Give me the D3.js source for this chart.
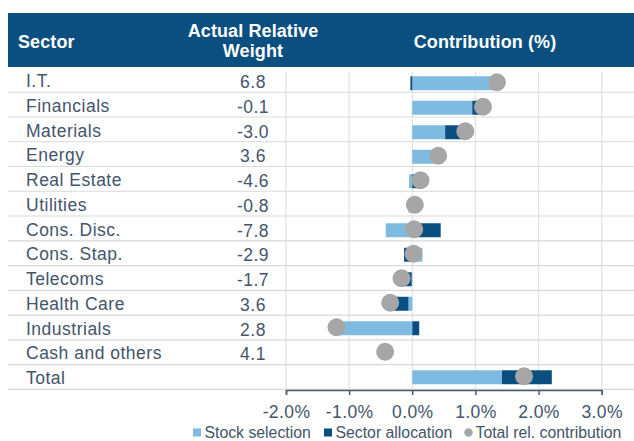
<!DOCTYPE html>
<html>
<head>
<meta charset="utf-8">
<script src="https://cdn.jsdelivr.net/npm/d3@7"></script>
<style>
  html, body { margin: 0; padding: 0; background: #fff; }
  svg { display: block; font-family: "Liberation Sans", Arial, sans-serif; }
</style>
</head>
<body>
<div id="chart"></div>
<script>
"use strict";

const sectors = [
  "I.T.", "Financials", "Materials", "Energy", "Real Estate", "Utilities",
  "Cons. Disc.", "Cons. Stap.", "Telecoms", "Health Care", "Industrials",
  "Cash and others", "Total",
];
// actual relative weight (%), Total has none
const weights = [6.8, -0.1, -3.0, 3.6, -4.6, -0.8, -7.8, -2.9, -1.7, 3.6, 2.8, 4.1, null];
// contributions (%)
const stockSelection = [1.37, 0.95, 0.52, 0.40, -0.05, -0.06, -0.42, 0.16, -0.01, -0.06, -1.25, 0, 1.42];
const sectorAllocation = [-0.03, 0.14, 0.32, 0.01, 0.17, 0.09, 0.45, -0.13, -0.15, -0.23, 0.11, 0, 0.79];
const totalContribution = [1.34, 1.12, 0.84, 0.41, 0.13, 0.04, 0.03, 0.02, -0.17, -0.35, -1.20, -0.43, 1.77];
const xTicks = [-2, -1, 0, 1, 2, 3];

const legendItems = [
  { label: "Stock selection", key: "stock" },
  { label: "Sector allocation", key: "sector" },
  { label: "Total rel. contribution", key: "total" },
];

const W = 634, H = 441;
const TEXT = "#44546A";
const NAVY = "#0B4F80";
const LIGHT = "#7FBAE1";
const GREY = "#A6A6A6";
const GRID = "#D9D9D9";

const svg = d3.select("#chart").append("svg").attr("width", W).attr("height", H);

// header band
const header = svg.append("g");
header.append("rect")
  .attr("x", 8).attr("y", 13).attr("width", W - 8).attr("height", 54)
  .attr("fill", NAVY);
header.append("text").attr("x", 18).attr("y", 48).text("Sector");
header.append("text").attr("x", 253).attr("y", 37).attr("text-anchor", "middle").text("Actual Relative");
header.append("text").attr("x", 253).attr("y", 57).attr("text-anchor", "middle").text("Weight");
header.append("text").attr("x", 485).attr("y", 48).attr("text-anchor", "middle").text("Contribution (%)");
header.selectAll("text")
  .attr("fill", "#fff").attr("font-weight", "bold").attr("font-size", "18px")
  .attr("letter-spacing", "0.1px");

// table rows
const rowY = d3.scaleBand().domain(sectors).range([67.5, 389.3]);
// chart bands
const y = d3.scaleBand().domain(sectors).range([71, 389.5]).paddingInner(0.43).paddingOuter(0.215);
const x = d3.scaleLinear().domain([-2, 3]).range([286, 601.7]);

// vertical gridlines
svg.append("g")
  .selectAll("line")
  .data(xTicks)
  .join("line")
  .attr("x1", (d) => x(d)).attr("x2", (d) => x(d))
  .attr("y1", 71.5).attr("y2", 390)
  .attr("stroke", "#E2E2E2").attr("stroke-width", 1.2);

// row separators
svg.append("g")
  .selectAll("line")
  .data(sectors)
  .join("line")
  .attr("x1", 8).attr("x2", W)
  .attr("y1", (d) => rowY(d) + rowY.step())
  .attr("y2", (d) => rowY(d) + rowY.step())
  .attr("stroke", GRID).attr("stroke-width", 1.2);

// sector names and weights
const rows = svg.append("g")
  .attr("fill", TEXT).attr("font-size", "17.5px").attr("letter-spacing", "0.5px");
rows.selectAll("text.name")
  .data(sectors)
  .join("text")
  .attr("class", "name")
  .attr("x", 26)
  .attr("y", (d) => rowY(d) + 19.5)
  .text((d) => d);
rows.selectAll("text.weight")
  .data(weights)
  .join("text")
  .attr("class", "weight")
  .attr("x", 253)
  .attr("y", (d, i) => rowY(sectors[i]) + 20.5)
  .attr("text-anchor", "middle")
  .text((d) => (d === null ? "" : d.toFixed(1)));

// stacked bars, diverging around zero
const table = sectors.map((s, i) => ({
  sector: s,
  stock: stockSelection[i],
  sector_alloc: sectorAllocation[i],
}));
const series = d3.stack()
  .keys(["stock", "sector_alloc"])
  .offset(d3.stackOffsetDiverging)(table);
const colors = { stock: LIGHT, sector_alloc: NAVY };

svg.append("g")
  .selectAll("g")
  .data(series)
  .join("g")
  .attr("fill", (s) => colors[s.key])
  .selectAll("rect")
  .data((s) => s)
  .join("rect")
  .attr("x", (d) => x(Math.min(d[0], d[1])))
  .attr("width", (d) => Math.abs(x(d[1]) - x(d[0])))
  .attr("y", (d) => y(d.data.sector))
  .attr("height", y.bandwidth());

// total contribution dots
svg.append("g")
  .selectAll("circle")
  .data(totalContribution)
  .join("circle")
  .attr("cx", (d) => x(d))
  .attr("cy", (d, i) => y(sectors[i]) + y.bandwidth() / 2 - 1)
  .attr("r", 9)
  .attr("fill", GREY);

// x axis
const axis = svg.append("g")
  .attr("transform", "translate(0,390)")
  .call(
    d3.axisBottom(x)
      .tickValues(xTicks)
      .tickSize(5)
      .tickSizeOuter(5)
      .tickPadding(11)
      .tickFormat((d) => d.toFixed(1) + "%")
  );
axis.selectAll("path, line").attr("stroke", "#4A5B6E").attr("stroke-width", 1.5);
axis.selectAll("text")
  .attr("fill", TEXT)
  .attr("font-size", "17.5px")
  .attr("letter-spacing", "0.4px")
  .attr("font-family", "'Liberation Sans', Arial, sans-serif");

// legend
const legendX = [193, 324, 464];
const legend = svg.append("g").attr("font-size", "15.8px").attr("fill", TEXT);
legendItems.forEach((item, i) => {
  const lx = legendX[i];
  if (item.key === "total") {
    legend.append("circle").attr("cx", lx + 4.5).attr("cy", 432.5).attr("r", 4.2).attr("fill", GREY);
  } else {
    legend.append("rect")
      .attr("x", lx).attr("y", 428.5).attr("width", 8).attr("height", 8)
      .attr("fill", item.key === "stock" ? LIGHT : NAVY);
  }
  legend.append("text").attr("x", lx + 11.5).attr("y", 438).text(item.label);
});
</script>
</body>
</html>
